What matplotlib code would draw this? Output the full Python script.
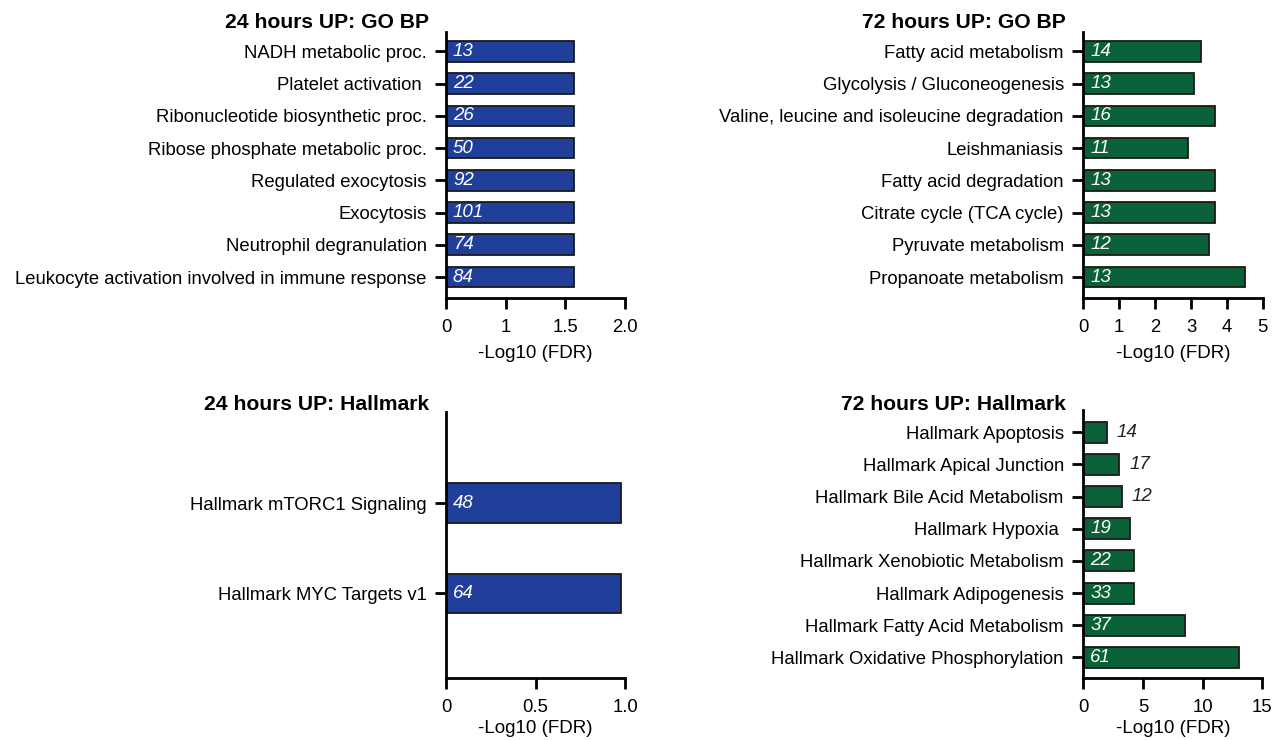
import numpy as np
import matplotlib
matplotlib.use('Agg')
import matplotlib.pyplot as plt

plt.rcParams['font.family'] = ['Liberation Sans', 'DejaVu Sans']

# top left: 24 hours UP GO BP
tl_terms = ['NADH metabolic proc.', 'Platelet activation ', 'Ribonucleotide biosynthetic proc.',
            'Ribose phosphate metabolic proc.', 'Regulated exocytosis', 'Exocytosis',
            'Neutrophil degranulation', 'Leukocyte activation involved in immune response']
tl_vals = [1.57, 1.57, 1.57, 1.57, 1.57, 1.57, 1.57, 1.57]
tl_counts = [13, 22, 26, 50, 92, 101, 74, 84]

# top right: 72 hours UP GO BP
tr_terms = ['Fatty acid metabolism', 'Glycolysis / Gluconeogenesis',
            'Valine, leucine and isoleucine degradation', 'Leishmaniasis',
            'Fatty acid degradation', 'Citrate cycle (TCA cycle)',
            'Pyruvate metabolism', 'Propanoate metabolism']
tr_vals = [3.27, 3.09, 3.67, 2.93, 3.66, 3.66, 3.50, 4.52]
tr_counts = [14, 13, 16, 11, 13, 13, 12, 13]

# bottom left: 24 hours UP Hallmark
bl_terms = ['Hallmark mTORC1 Signaling', 'Hallmark MYC Targets v1']
bl_vals = [0.975, 0.978]
bl_counts = [48, 64]

# bottom right: 72 hours UP Hallmark
br_terms = ['Hallmark Apoptosis', 'Hallmark Apical Junction', 'Hallmark Bile Acid Metabolism',
            'Hallmark Hypoxia ', 'Hallmark Xenobiotic Metabolism', 'Hallmark Adipogenesis',
            'Hallmark Fatty Acid Metabolism', 'Hallmark Oxidative Phosphorylation']
br_vals = [1.98, 3.02, 3.21, 3.91, 4.25, 4.25, 8.49, 13.04]
br_counts = [14, 17, 12, 19, 22, 33, 37, 61]

titles = ['24 hours UP: GO BP', '72 hours UP: GO BP',
          '24 hours UP: Hallmark', '72 hours UP: Hallmark']

BLUE = '#1f3f9b'
GREEN = '#0b6137'

W, H = 1273, 740
fig = plt.figure(figsize=(W / 100, H / 100), dpi=100)


def rect(x0, x1, ytop, ybot):
    return [x0 / W, 1 - ybot / H, (x1 - x0) / W, (ybot - ytop) / H]


def panel(r, terms, vals, counts, color, ylim, height, xlim, xticks, xticklabels,
          n_outside=0, scale=None, labelpad=7):
    ax = fig.add_axes(r)
    if scale is not None:
        ax.set_xscale('function', functions=scale)
    y = np.arange(len(terms))
    ax.barh(y, vals, height=height, color=color, edgecolor='#1a1a1a', linewidth=1.3)
    ax.set_ylim(*ylim)
    ax.set_xlim(*xlim)
    ax.set_yticks(y)
    ax.set_yticklabels(terms, fontsize=13.3)
    ax.set_xticks(xticks)
    ax.set_xticklabels(xticklabels, fontsize=13.3)
    ax.set_xlabel('-Log10 (FDR)', fontsize=13.5, labelpad=labelpad)
    for s in ['top', 'right']:
        ax.spines[s].set_visible(False)
    for s in ['left', 'bottom']:
        ax.spines[s].set_linewidth(2)
    ax.tick_params(axis='both', width=2, length=8, direction='out')
    ax.tick_params(axis='y', pad=6)
    ax.tick_params(axis='x', pad=7)
    for i, (v, c) in enumerate(zip(vals, counts)):
        if i < n_outside:
            ax.annotate(str(c), (v, i), xytext=(7, 0), textcoords='offset points',
                        va='center', ha='left', fontsize=13.5, style='italic', color='#222222')
        else:
            ax.annotate(str(c), (0, i), xytext=(5, 0), textcoords='offset points',
                        va='center', ha='left', fontsize=13.5, style='italic', color='white')
    return ax


def fwd(x):
    x = np.asarray(x, dtype=float)
    return np.where(x <= 1, x, 2 * x - 1)


def inv(x):
    x = np.asarray(x, dtype=float)
    return np.where(x <= 1, x, (x + 1) / 2)


ax1 = panel(rect(446, 625, 32, 297.7), tl_terms, tl_vals, tl_counts, BLUE,
            (7.64, -0.6), 0.64, (0, 2), [0, 1, 1.5, 2], ['0', '1', '1.5', '2.0'],
            scale=(fwd, inv))
ax2 = panel(rect(1083.3, 1262.7, 32, 297.7), tr_terms, tr_vals, tr_counts, GREEN,
            (7.64, -0.6), 0.64, (0, 5), [0, 1, 2, 3, 4, 5], ['0', '1', '2', '3', '4', '5'])
ax3 = panel(rect(446, 625, 412, 678.3), bl_terms, bl_vals, bl_counts, BLUE,
            (1.94, -1.01), 0.44, (0, 1), [0, 0.5, 1.0], ['0', '0.5', '1.0'], labelpad=3)
ax4 = panel(rect(1083.3, 1262.3, 410, 678.3), br_terms, br_vals, br_counts, GREEN,
            (7.65, -0.69), 0.65, (0, 15), [0, 5, 10, 15], ['0', '5', '10', '15'],
            n_outside=3, labelpad=3)

for t, x, yy in zip(titles, [429, 1066, 429, 1066], [22, 22, 404, 404]):
    fig.text(x / W, 1 - yy / H, t, fontsize=15.2, fontweight='bold', ha='right', va='center')

fig.savefig('out.png', dpi=100)
